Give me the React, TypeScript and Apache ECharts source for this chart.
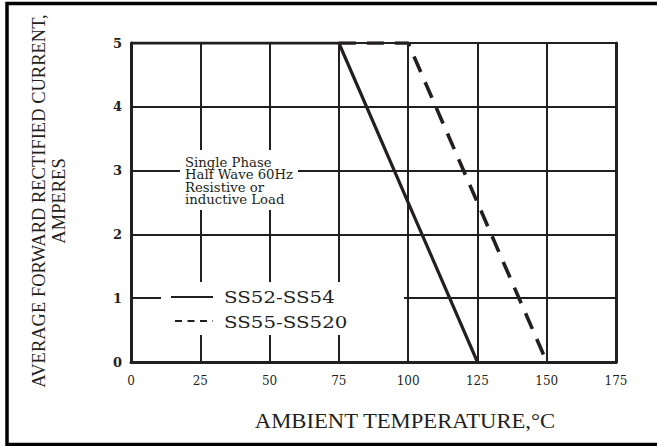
import React, { useEffect, useRef } from "react";
import * as echarts from "echarts";

const xTicks = [0, 25, 50, 75, 100, 125, 150, 175];
const yTicks = [0, 1, 2, 3, 4, 5];
const seriesNames = ["SS52-SS54", "SS55-SS520"];
const ss52Data: [number, number][] = [
  [0, 5],
  [75, 5],
  [125, 0],
];
const ss55Data: [number, number][] = [
  [75, 5],
  [100, 5],
  [150, 0],
];
const noteLines = ["Single Phase", "Half Wave 60Hz", "Resistive or", "inductive Load"];
const xTitle = "AMBIENT TEMPERATURE,\u00b0C";
const yTitleLines = ["AVERAGE FORWARD RECTIFIED CURRENT,", "AMPERES"];

const INK = "#231f20";

export default function App() {
  const ref = useRef<HTMLDivElement>(null);
  useEffect(() => {
    if (!ref.current) return;
    const chart = echarts.init(ref.current, undefined, { renderer: "svg" });
    const serif = "DejaVu Serif";
    chart.setOption({
      animation: false,
      backgroundColor: "#ffffff",
      grid: {
        left: 131,
        top: 43,
        right: 41,
        bottom: 84,
        outerBoundsMode: "none",
      },
      xAxis: {
        type: "value",
        min: xTicks[0],
        max: xTicks[xTicks.length - 1],
        interval: 25,
        axisLine: { show: true, lineStyle: { color: INK, width: 3 } },
        axisTick: { show: false },
        axisLabel: {
          color: INK,
          fontFamily: serif,
          fontSize: 12,
          margin: 13,
          formatter: (v: number) => (xTicks.includes(v) ? String(v) : ""),
        },
        splitLine: { show: true, lineStyle: { color: INK, width: 2 } },
      },
      yAxis: [
        {
          type: "value",
          min: yTicks[0],
          max: yTicks[yTicks.length - 1],
          interval: 1,
          axisLine: { show: true, lineStyle: { color: INK, width: 3 } },
          axisTick: { show: false },
          axisLabel: {
            color: INK,
            fontFamily: serif,
            fontSize: 13,
            fontWeight: "bold",
            margin: 9,
          },
          splitLine: { show: true, lineStyle: { color: INK, width: 2 } },
        },
        {
          type: "value",
          position: "right",
          min: yTicks[0],
          max: yTicks[yTicks.length - 1],
          interval: 1,
          axisLine: { show: true, lineStyle: { color: INK, width: 3 } },
          axisTick: { show: false },
          axisLabel: { show: false },
          splitLine: { show: false },
        },
      ],
      series: [
        {
          name: seriesNames[0],
          type: "line",
          data: ss52Data,
          symbol: "none",
          z: 4,
          lineStyle: { color: INK, width: 3.2, type: "solid" },
        },
        {
          name: seriesNames[1],
          type: "line",
          data: ss55Data,
          symbol: "none",
          z: 3,
          lineStyle: { color: INK, width: 3.6, type: [17, 11], cap: "butt" },
        },
      ],
      graphic: [
        {
          type: "rect",
          shape: { x: 7, y: 3.5, width: 700, height: 441 },
          style: { fill: "none", stroke: "#000", lineWidth: 3.5 },
          z: 20,
        },
        {
          type: "rect",
          shape: { x: 180, y: 150, width: 118, height: 60 },
          style: { fill: "#fff" },
          z: 10,
        },
        {
          type: "rect",
          shape: { x: 161, y: 282, width: 243, height: 53 },
          style: { fill: "#fff" },
          z: 10,
        },
        {
          type: "text",
          x: 185,
          y: 156,
          scaleX: 1.06,
          z: 11,
          style: {
            text: noteLines.join("\n"),
            fontFamily: serif,
            fontSize: 12.5,
            lineHeight: 12.5,
            fill: INK,
            align: "left",
            verticalAlign: "top",
          },
        },
        {
          type: "line",
          shape: { x1: 171, y1: 297, x2: 213, y2: 297 },
          style: { stroke: INK, lineWidth: 2 },
          z: 11,
        },
        {
          type: "line",
          shape: { x1: 175, y1: 321, x2: 213, y2: 321 },
          style: { stroke: INK, lineWidth: 2, lineDash: [7, 5.5] },
          z: 11,
        },
        {
          type: "text",
          x: 224,
          y: 297,
          scaleX: 1.24,
          z: 11,
          style: {
            text: seriesNames[0],
            fontFamily: serif,
            fontSize: 16,
            fill: INK,
            align: "left",
            verticalAlign: "middle",
          },
        },
        {
          type: "text",
          x: 224,
          y: 322,
          scaleX: 1.24,
          z: 11,
          style: {
            text: seriesNames[1],
            fontFamily: serif,
            fontSize: 16,
            fill: INK,
            align: "left",
            verticalAlign: "middle",
          },
        },
        {
          type: "text",
          x: 405,
          y: 421,
          scaleX: 1.08,
          z: 11,
          style: {
            text: xTitle,
            fontFamily: "Liberation Serif",
            fontSize: 21,
            fill: INK,
            align: "center",
            verticalAlign: "middle",
          },
        },
        {
          type: "text",
          x: 49,
          y: 201,
          rotation: Math.PI / 2,
          z: 11,
          style: {
            text: yTitleLines.join("\n"),
            fontFamily: "Liberation Serif",
            fontSize: 18.5,
            lineHeight: 20,
            fill: INK,
            align: "center",
            verticalAlign: "middle",
          },
        },
      ],
    });
    return () => chart.dispose();
  }, []);
  return (
    <div
      ref={ref}
      style={{ position: "fixed", left: 0, top: 0, width: 657, height: 446 }}
    />
  );
}
